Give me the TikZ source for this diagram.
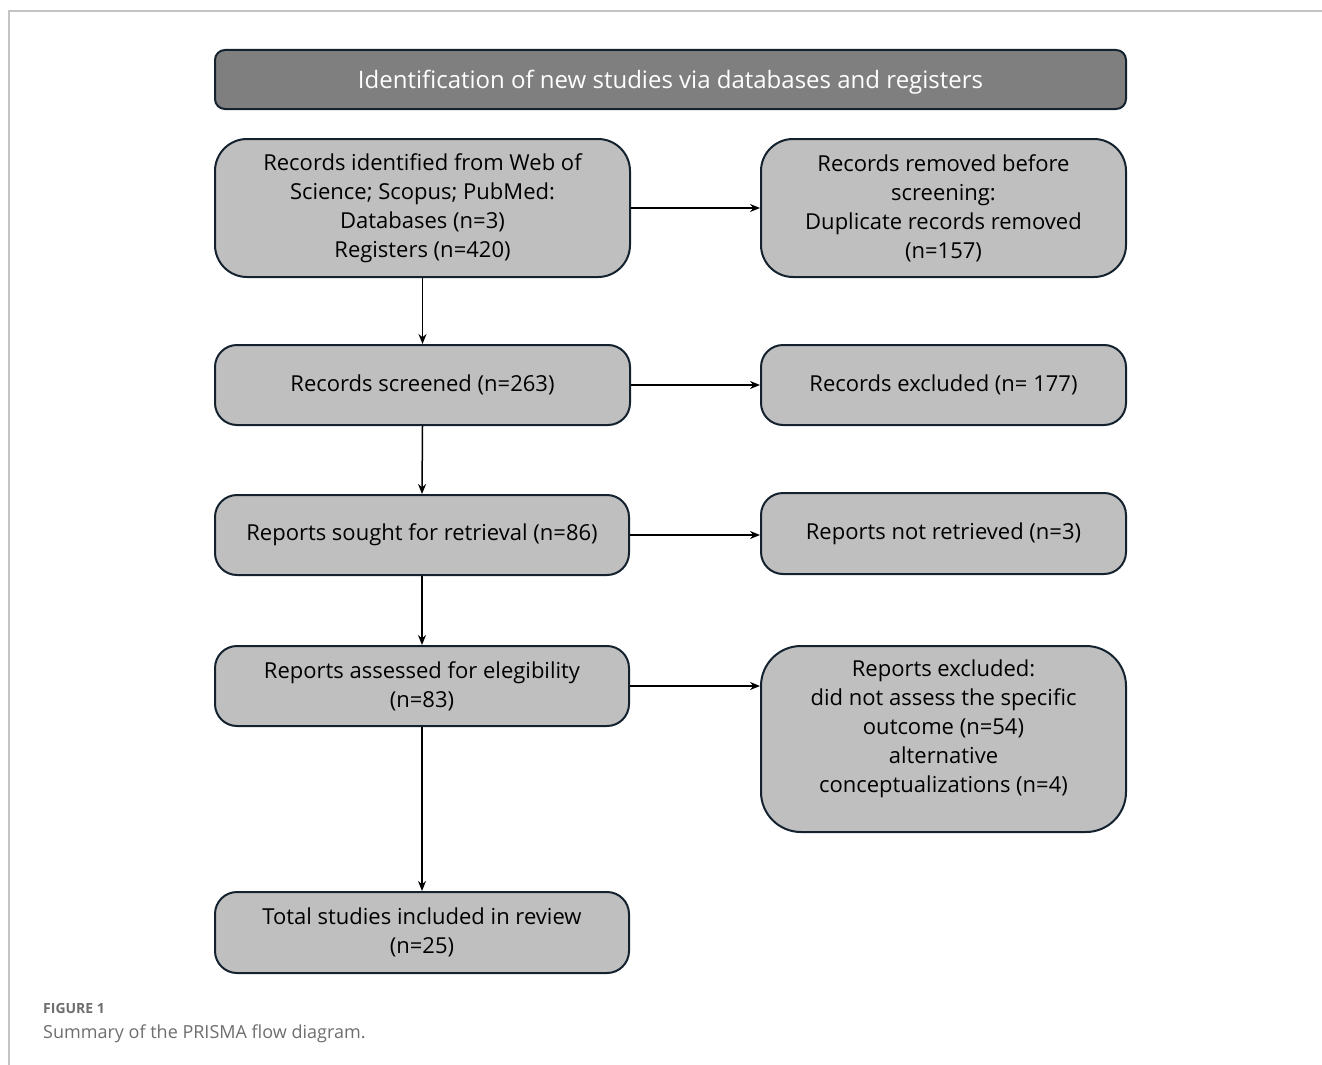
\documentclass[tikz,border=0pt]{standalone}
\usepackage{fontspec}
\setmainfont{Open Sans}
\usepackage{tikz}
\usetikzlibrary{arrows.meta}
\usepackage{xcolor}
\definecolor{edgeblue}{HTML}{14222F}
\definecolor{boxgray}{HTML}{BFBFBF}
\definecolor{headgray}{HTML}{7F7F7F}
\definecolor{capgray}{HTML}{6E6E6E}
\definecolor{framegray}{HTML}{C4C4C4}

\begin{document}
\begin{tikzpicture}[x=1pt,y=-1pt,>={Stealth[length=10pt,width=8pt]},
        box/.style={draw=edgeblue,line width=2pt,fill=boxgray,rounded corners=22pt,align=center,inner sep=0pt,
          font=\fontsize{22}{29}\selectfont},
        head/.style={draw=edgeblue,line width=2pt,fill=headgray,rounded corners=10pt,inner sep=0pt,text=white,
          text depth=0pt,font=\fontsize{24}{28}\selectfont},
        flow/.style={->,line width=1.5pt}]
        \useasboundingbox (0,0) rectangle (1322,1065);
        \draw[framegray,line width=1.2pt] (1322,11) -- (9,11) -- (9,1065);

        \node[head,minimum width=911pt,minimum height=59pt] (head) at (670.5,79.5)
          {Identification of new studies via databases and registers};

        \node[box,rounded corners=32pt,minimum width=415pt,minimum height=138pt] (ident) at (422.5,208)
          {Records identified from Web of\\Science; Scopus; PubMed:\\Databases (n=3)\\Registers (n=420)};
        \node[box,rounded corners=32pt,minimum width=365pt,minimum height=138pt] (removed) at (943.5,208)
          {Records removed before\\screening:\\Duplicate records removed\\(n=157)};

        \node[box,minimum width=415pt,minimum height=80pt] (screened) at (422.5,385) {Records screened (n=263)};
        \node[box,minimum width=365pt,minimum height=80pt] (excluded) at (943.5,385) {Records excluded (n= 177)};

        \node[box,minimum width=414pt,minimum height=80pt] (sought) at (422,535) {Reports sought for retrieval (n=86)};
        \node[box,minimum width=365pt,minimum height=81pt] (notret) at (943.5,533.5) {Reports not retrieved (n=3)};

        \node[box,minimum width=414pt,minimum height=80pt] (assessed) at (422,686) {Reports assessed for elegibility\\(n=83)};
        \node[box,rounded corners=40pt,minimum width=365pt,minimum height=186pt] (repexcl) at (943.5,739)
          {Reports excluded:\\did not assess the specific\\outcome (n=54)\\alternative\\conceptualizations (n=4)\\[-4pt]\mbox{}};

        \node[box,minimum width=414pt,minimum height=81pt] (total) at (422,932.5) {Total studies included in review\\(n=25)};

        % arrows
        \draw[flow] (ident.south) -- (screened.north);
        \draw[flow] (screened.south) -- (sought.north);
        \draw[flow] (sought.south) -- (assessed.north);
        \draw[flow] (assessed.south) -- (total.north);
        \draw[flow] (ident.east) -- (ident.east -| removed.west);
        \draw[flow] (screened.east) -- (screened.east -| excluded.west);
        \draw[flow] (sought.east) -- (sought.east -| notret.west);
        \draw[flow] (assessed.east) -- (assessed.east -| repexcl.west);

        % caption
        \node[anchor=base west,inner sep=0pt,text=capgray,font=\fontsize{14}{16}\selectfont\bfseries] (fig) at (43,1013) {FIGURE 1};
        \node[anchor=base west,inner sep=0pt,text=capgray,font=\fontsize{18}{22}\selectfont] (cap) at (43,1038)
          {Summary of the PRISMA flow diagram.};
\end{tikzpicture}
\end{document}
